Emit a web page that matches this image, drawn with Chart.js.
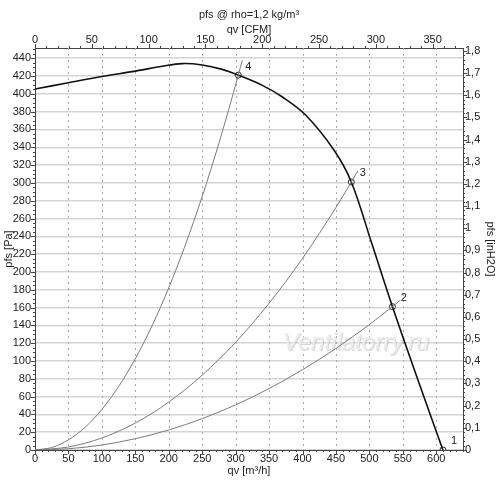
<!DOCTYPE html>
<html>
<head>
<meta charset="utf-8">
<script src="https://cdn.jsdelivr.net/npm/chart.js@4.4.1/dist/chart.umd.min.js"></script>
<style>
  html, body { margin: 0; padding: 0; background: #fff; }
  #wrap { width: 500px; height: 487px; }
</style>
</head>
<body>
<div id="wrap"><canvas id="chart" width="500" height="487"></canvas></div>
<script>
// axis ranges
const qMax = 640;          // m3/h
const pMax = 451.5;        // Pa
const CFM_PER_M3H = 0.588578;
const PA_PER_INH2O = 249.089;

// fan curve
const fanQ = [0, 50, 100, 150, 190, 220, 250, 280, 304, 340, 370, 405, 447, 473, 504, 534.5, 572, 610];
const fanP = [405.5, 412.5, 419.5, 425.5, 431, 434, 432.5, 427.5, 421, 409.5, 396.5, 376, 337, 301, 231, 161, 80, 0];

// system curves
const sys4Q = [0, 25, 50, 75, 100, 125, 150, 175, 200, 225, 250, 275, 304, 310];
const sys4P = [0, 2.8, 11.4, 25.6, 45.6, 71.2, 102.5, 139.5, 182.2, 230.7, 284.8, 344.5, 421, 437.8];
const sys3Q = [0, 50, 100, 150, 200, 250, 300, 350, 400, 450, 473, 483];
const sys3P = [0, 3.4, 13.5, 30.3, 53.8, 84.1, 121, 164.8, 215.2, 272.4, 301, 313.8];
const sys2Q = [0, 50, 100, 150, 200, 250, 300, 350, 400, 450, 500, 534.5, 546];
const sys2P = [0, 1.4, 5.6, 12.7, 22.5, 35.2, 50.7, 69, 90.2, 114.1, 140.9, 161, 168];

// operating points and their numbers
const opQ = [610, 534.5, 473, 304];
const opP = [0, 161, 301, 421];
const opTags = ["1", "2", "3", "4"];
const tagQ = [626.5, 551.5, 490, 319];
const tagP = [10, 170.4, 310.9, 430.7];

const FONT = "'Liberation Sans', Arial, sans-serif";
const TXT = "#222";
const AXIS = "#444";

function pts(xs, ys) {
    return xs.map((x, i) => ({ x: x, y: ys[i] }));
}

function commaNum(v) {
    return String(Number(v.toFixed(1))).replace(".", ",");
}

// title, watermark, dotted verticals, minor ticks, point numbers
const extras = {
    id: "extras",
    beforeDatasetsDraw(chart) {
        const ctx = chart.ctx;
        const a = chart.chartArea;
        const x = chart.scales.x;
        ctx.save();
        ctx.strokeStyle = "#aaa";
        ctx.lineWidth = 1;
        ctx.setLineDash([2, 4]);
        x.ticks.forEach(t => {
            const px = Math.round(x.getPixelForValue(t.value)) + 0.5;
            if (px <= a.left + 1 || px >= a.right - 1) return;
            ctx.beginPath();
            ctx.moveTo(px, a.top);
            ctx.lineTo(px, a.bottom);
            ctx.stroke();
        });
        ctx.setLineDash([]);

        // watermark
        ctx.font = "italic 24px 'Liberation Sans', Arial, sans-serif";
        ctx.textAlign = "center";
        ctx.textBaseline = "middle";
        const wx = x.getPixelForValue(480);
        const wy = chart.scales.y.getPixelForValue(120);
        ctx.fillStyle = "rgba(140,140,140,0.35)";
        ctx.fillText("Ventilatorry.ru", wx + 1, wy + 1);
        ctx.fillStyle = "#ececec";
        ctx.fillText("Ventilatorry.ru", wx, wy);
        ctx.restore();
    },
    afterDraw(chart) {
        const ctx = chart.ctx;
        const a = chart.chartArea;
        const s = chart.scales;
        ctx.save();
        ctx.strokeStyle = AXIS;
        ctx.lineWidth = 1;

        function ticksV(scale, step, major, xEdge, dir) {
            const n = Math.round((scale.max - scale.min) / step);
            for (let i = 0; i <= n; i++) {
                const v = scale.min + i * step;
                if (v > scale.max + 1e-9) break;
                const py = Math.round(scale.getPixelForValue(v)) + 0.5;
                const isMajor = Math.abs(v / major - Math.round(v / major)) < 1e-6;
                const len = isMajor ? 4 : 2;
                ctx.beginPath();
                ctx.moveTo(xEdge, py);
                ctx.lineTo(xEdge + dir * len, py);
                ctx.stroke();
            }
        }
        function ticksH(scale, step, major, yEdge, dir) {
            const n = Math.round((scale.max - scale.min) / step);
            for (let i = 0; i <= n; i++) {
                const v = scale.min + i * step;
                if (v > scale.max + 1e-9) break;
                const px = Math.round(scale.getPixelForValue(v)) + 0.5;
                const isMajor = Math.abs(v / major - Math.round(v / major)) < 1e-6;
                const len = isMajor ? 4 : 2;
                ctx.beginPath();
                ctx.moveTo(px, yEdge);
                ctx.lineTo(px, yEdge + dir * len);
                ctx.stroke();
            }
        }
        ticksV(s.y, 5, 20, a.left, -1);
        ticksV(s.y2, 0.02, 0.1, a.right, 1);
        ticksH(s.x, 10, 50, a.bottom, 1);
        ticksH(s.x2, 10, 50, a.top, -1);

        // main title
        ctx.fillStyle = TXT;
        ctx.font = "11px " + FONT;
        ctx.textAlign = "center";
        ctx.textBaseline = "middle";
        ctx.fillText("pfs @ rho=1,2 kg/m³", (a.left + a.right) / 2, 14.5);

        // operating point numbers
        opTags.forEach((t, i) => {
            ctx.fillText(t, s.x.getPixelForValue(tagQ[i]), s.y.getPixelForValue(tagP[i]));
        });
        ctx.restore();
    }
};

const tickFont = { family: FONT, size: 11 };
const titleFont = { family: FONT, size: 11 };

const chart = new Chart(document.getElementById("chart"), {
    type: "line",
    data: {
        datasets: [
            {
                data: pts(sys4Q, sys4P),
                borderColor: "#7a7a7a",
                borderWidth: 1,
                pointRadius: 0,
                cubicInterpolationMode: "monotone"
            },
            {
                data: pts(sys3Q, sys3P),
                borderColor: "#7a7a7a",
                borderWidth: 1,
                pointRadius: 0,
                cubicInterpolationMode: "monotone"
            },
            {
                data: pts(sys2Q, sys2P),
                borderColor: "#7a7a7a",
                borderWidth: 1,
                pointRadius: 0,
                cubicInterpolationMode: "monotone"
            },
            {
                data: pts(fanQ, fanP),
                borderColor: "#111",
                borderWidth: 1.6,
                pointRadius: 0,
                tension: 0.35
            },
            {
                data: pts(opQ, opP),
                showLine: false,
                pointRadius: 3,
                pointBackgroundColor: "#fff",
                pointBorderColor: "#222",
                pointBorderWidth: 1,
                clip: 0
            }
        ]
    },
    options: {
        responsive: false,
        animation: false,
        layout: { padding: 0 },
        plugins: {
            legend: { display: false },
            tooltip: { enabled: false }
        },
        scales: {
            x: {
                type: "linear",
                position: "bottom",
                min: 0,
                max: qMax,
                afterFit: s => { s.height = 37; },
                ticks: { stepSize: 50, includeBounds: false, autoSkip: false, maxRotation: 0, padding: 2, color: TXT, font: tickFont },
                grid: { drawOnChartArea: false, drawTicks: false },
                border: { display: true, color: AXIS, width: 1 },
                title: { display: true, text: "qv [m³/h]", color: TXT, font: titleFont, padding: { top: 0, bottom: 9.5 } }
            },
            x2: {
                type: "linear",
                position: "top",
                min: 0,
                max: qMax * CFM_PER_M3H,
                afterFit: s => { s.height = 48; },
                ticks: { stepSize: 50, includeBounds: false, autoSkip: false, maxRotation: 0, padding: 1, color: TXT, font: tickFont },
                grid: { drawOnChartArea: false, drawTicks: false },
                border: { display: true, color: AXIS, width: 1 },
                title: { display: true, text: "qv [CFM]", color: TXT, font: titleFont, padding: { top: 23, bottom: 0 } }
            },
            y: {
                type: "linear",
                position: "left",
                min: 0,
                max: pMax,
                afterFit: s => { s.width = 35; },
                ticks: { stepSize: 20, includeBounds: false, autoSkip: false, padding: 4, color: TXT, font: tickFont },
                grid: { color: "#d4d4d4", lineWidth: 1.5, drawTicks: false },
                border: { display: true, color: AXIS, width: 1 },
                title: { display: true, text: "pfs [Pa]", color: TXT, font: titleFont, padding: { top: 2.5, bottom: 0 } }
            },
            y2: {
                type: "linear",
                position: "right",
                min: 0,
                max: pMax / PA_PER_INH2O,
                afterFit: s => { s.width = 37; },
                ticks: { stepSize: 0.1, includeBounds: false, autoSkip: false, padding: 2, color: TXT, font: tickFont, callback: v => commaNum(v) },
                grid: { drawOnChartArea: false, drawTicks: false },
                border: { display: true, color: AXIS, width: 1 },
                title: { display: true, text: "pfs [inH2O]", color: TXT, font: titleFont, padding: { top: 3.5, bottom: 0 } }
            }
        }
    },
    plugins: [extras]
});
</script>
</body>
</html>
